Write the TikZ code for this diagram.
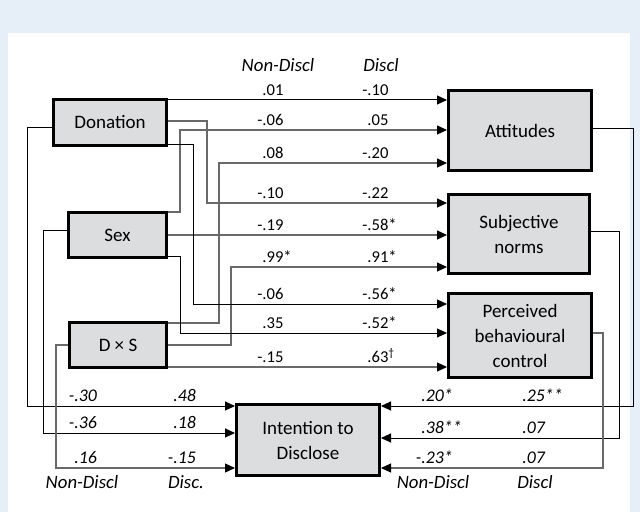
\documentclass[tikz,border=0pt]{standalone}
\usepackage{fontspec}
\setmainfont{Carlito}
\usetikzlibrary{arrows.meta}
\definecolor{panelblue}{RGB}{230,238,248}
\definecolor{boxgrey}{RGB}{220,221,223}
\definecolor{lingrey}{RGB}{105,105,105}
\tikzset{
  var/.style={draw, line width=1.5pt, fill=boxgrey, align=center, inner sep=0pt,
    font=\fontsize{9.5}{12.5}\selectfont},
  coef/.style={anchor=south west, inner xsep=0pt, inner ysep=2pt,
    font=\fontsize{8.3}{10}\selectfont},
  icoef/.style={anchor=south west, inner xsep=0pt, inner ysep=2pt,
    font=\fontsize{8.9}{10}\selectfont\itshape},
  head/.style={inner sep=0pt, font=\fontsize{9.4}{11}\selectfont\itshape},
  pth/.style={line width=0.5pt, -{Triangle[length=5pt,width=4.5pt,color=black,fill=black]}},
  gpth/.style={line width=0.6pt, draw=lingrey, -{Triangle[length=5pt,width=4.5pt,color=black,fill=black]}}
}
\begin{document}
\begin{tikzpicture}[x=0.5pt, y=-0.5pt]
\fill[panelblue] (0,0) rectangle (640,512);
\fill[white] (8,33) rectangle (630,512);
\useasboundingbox (0,0) rectangle (640,512);
%
\node[var, minimum width=56.5pt, minimum height=23pt] (d) at (110,122.5) {Donation};
\node[var, minimum width=49pt, minimum height=22.5pt] (s) at (117.5,235) {Sex};
\node[var, minimum width=48.5pt, minimum height=22.5pt] (ds) at (118,345) {D × S};
\node[var, minimum width=71.5pt, minimum height=40pt] (a) at (520,130.5) {Attitudes};
\node[var, minimum width=70.5pt, minimum height=39.5pt] (n) at (519,234) {Subjective\\norms};
\node[var, minimum width=71.5pt, minimum height=42pt] (p) at (520,335.5) {Perceived\\behavioural\\control};
\node[var, minimum width=71.5pt, minimum height=35.5pt] (i) at (308,440) {Intention to\\Disclose};
%
\node[head] (h1) at (278,65) {Non-Discl};
\node[head] (h2) at (381,65) {Discl};
\node[head] (h3) at (82,482) {Non-Discl};
\node[head] (h4) at (186,482) {Disc.};
\node[head] (h5) at (433,482) {Non-Discl};
\node[head] (h6) at (535,482) {Discl};
%
% predictors -> attitudes
\draw [pth] (d.east |- 0,100) -- (a.west |- 0,100);
\draw [gpth] (s.east |- 0,212) -- (180,212) -- (180,130) -- (a.west |- 0,130);
\draw [gpth] (ds.east |- 0,323) -- (219,323) -- (219,163) -- (a.west |- 0,163);
%
% predictors -> subjective norms
\draw [gpth] (d.east |- 0,121) -- (207,121) -- (207,203) -- (n.west |- 0,203);
\draw [gpth] (s.east |- 0,235) -- (n.west |- 0,235);
\draw [gpth] (ds.east |- 0,345) -- (231,345) -- (231,267) -- (n.west |- 0,267);
%
% predictors -> pbc
\draw [pth] (d.east |- 0,145) -- (193,145) -- (193,304) -- (p.west |- 0,304);
\draw [pth] (s.east |- 0,257) -- (180,257) -- (180,333) -- (p.west |- 0,333);
\draw [gpth] (ds.east |- 0,367) -- (p.west |- 0,367);
%
% predictors -> intention
\draw [pth] (d.west |- 0,128) -- (27,128) -- (27,406) -- (i.west |- 0,406);
\draw [pth] (s.west |- 0,231) -- (43,231) -- (43,433) -- (i.west |- 0,433);
\draw [gpth] (ds.west |- 0,345) -- (56,345) -- (56,468) -- (i.west |- 0,468);
%
% mediators -> intention
\draw [pth] (a.east |- 0,129) -- (633,129) -- (633,406) -- (i.east |- 0,406);
\draw [pth] (n.east |- 0,232) -- (619,232) -- (619,438) -- (i.east |- 0,438);
\draw [gpth] (p.east |- 0,333) -- (603,333) -- (603,468) -- (i.east |- 0,468);
%
\node[coef] (n1) at (262,100) {.01};
\node[coef] (c1) at (367,100) {\llap{-}.10};
\node[coef] (n2) at (262,130) {\llap{-}.06};
\node[coef] (c2) at (367,130) {.05};
\node[coef] (n3) at (262,163) {.08};
\node[coef] (c3) at (367,163) {\llap{-}.20};
\node[coef] (n4) at (262,203) {\llap{-}.10};
\node[coef] (c4) at (367,203) {\llap{-}.22};
\node[coef] (n5) at (262,235) {\llap{-}.19};
\node[coef] (c5) at (367,235) {\llap{-}.58*};
\node[coef] (n6) at (262,267) {.99*};
\node[coef] (c6) at (367,267) {.91*};
\node[coef] (n7) at (262,304) {\llap{-}.06};
\node[coef] (c7) at (367,304) {\llap{-}.56*};
\node[coef] (n8) at (262,333) {.35};
\node[coef] (c8) at (367,333) {\llap{-}.52*};
\node[coef] (n9) at (262,367) {\llap{-}.15};
\node[coef] (c9) at (367,367) {.63\textsuperscript{†}};
%
\node[icoef] (ln1) at (74,406) {\llap{-}.30};
\node[icoef] (lc1) at (173,406) {.48};
\node[icoef] (ln2) at (74,433) {\llap{-}.36};
\node[icoef] (lc2) at (173,433) {.18};
\node[icoef] (ln3) at (74,468) {.16};
\node[icoef] (lc3) at (173,468) {\llap{-}.15};
%
\node[icoef] (rn1) at (421,406) {.20*};
\node[icoef] (rc1) at (522,406) {.25**};
\node[icoef] (rn2) at (421,438) {.38**};
\node[icoef] (rc2) at (522,438) {.07};
\node[icoef] (rn3) at (421,468) {\llap{-}.23*};
\node[icoef] (rc3) at (522,468) {.07};
\end{tikzpicture}
\end{document}
